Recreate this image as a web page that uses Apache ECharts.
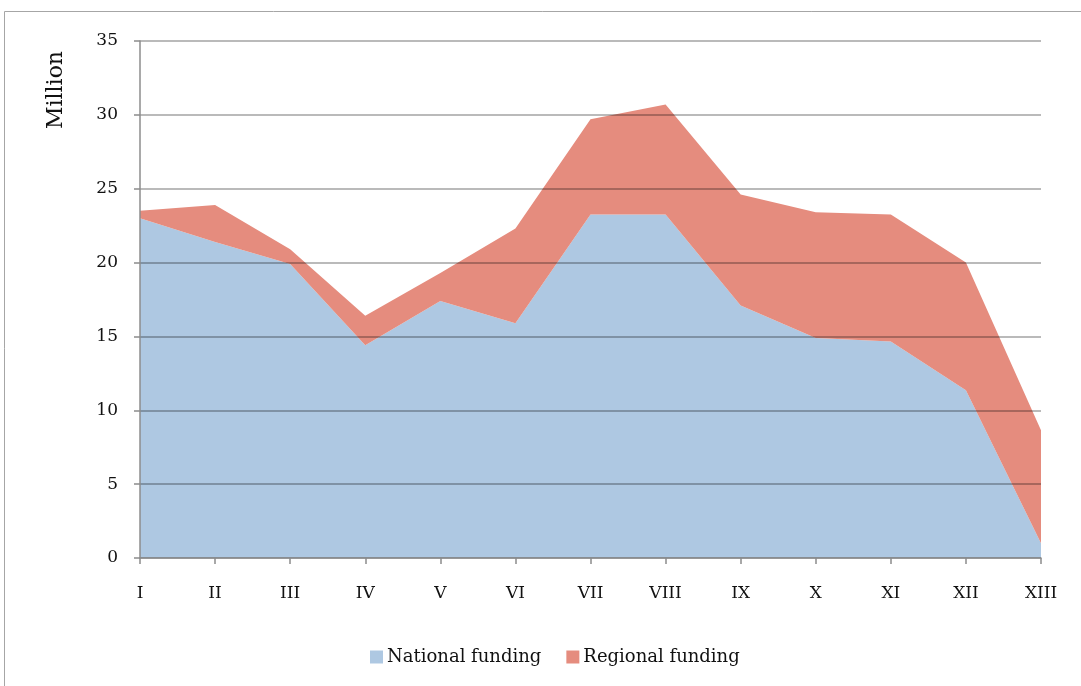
<!DOCTYPE html>
<html>
<head>
<meta charset="utf-8">
<script src="https://cdn.jsdelivr.net/npm/echarts@6/dist/echarts.min.js"></script>
<style>
  html, body { margin: 0; padding: 0; background: #ffffff; }
  #chart { width: 1081px; height: 686px; }
</style>
</head>
<body>
<div id="chart"></div>
<script>
// Funding by period, in millions
const categories = ['I', 'II', 'III', 'IV', 'V', 'VI', 'VII', 'VIII', 'IX', 'X', 'XI', 'XII', 'XIII'];
const nationalFunding = [23.0, 21.4, 19.9, 14.4, 17.4, 15.9, 23.25, 23.25, 17.1, 14.9, 14.65, 11.35, 1.0];
const totalFunding = [23.5, 23.9, 20.9, 16.4, 19.3, 22.3, 29.7, 30.7, 24.6, 23.4, 23.25, 20.0, 8.65];
const regionalFunding = totalFunding.map((t, i) => +(t - nationalFunding[i]).toFixed(2));
const yTicks = { min: 0, max: 35, interval: 5 };
const unitLabel = 'Million';

const font = '"DejaVu Serif", "Liberation Serif", serif';
const chart = echarts.init(document.getElementById('chart'), null, { renderer: 'canvas' });

chart.setOption({
  animation: false,
  backgroundColor: '#ffffff',
  graphic: [
    {
      type: 'polyline',
      shape: { points: [[4.5, 686], [4.5, 11.5], [1081, 11.5]] },
      style: { stroke: '#a6a6a6', lineWidth: 1, fill: null },
      silent: true
    },
    {
      type: 'text',
      x: 56,
      y: 90,
      rotation: Math.PI / 2,
      style: {
        text: unitLabel,
        fontFamily: font,
        fontSize: 22,
        fill: '#111111',
        align: 'center',
        verticalAlign: 'middle'
      },
      silent: true
    }
  ],
  grid: { left: 140, right: 40, top: 41, bottom: 128, containLabel: false },
  legend: {
    data: ['National funding', 'Regional funding'],
    bottom: 15,
    left: 365,
    itemWidth: 13,
    itemHeight: 13,
    itemGap: 25,
    icon: 'rect',
    textStyle: { fontFamily: font, fontSize: 18, color: '#111111', padding: [0, 0, 0, -1] }
  },
  xAxis: {
    type: 'category',
    data: categories,
    boundaryGap: false,
    axisLine: { lineStyle: { color: '#8c8c8c', width: 1.5 } },
    axisTick: { show: true, length: 6, lineStyle: { color: '#8c8c8c', width: 1.5 }, alignWithLabel: true },
    axisLabel: { fontFamily: font, fontSize: 17, color: '#111111', margin: 27 },
    z: 3
  },
  yAxis: {
    type: 'value',
    min: yTicks.min,
    max: yTicks.max,
    interval: yTicks.interval,
    axisLine: { show: true, lineStyle: { color: '#8c8c8c', width: 1.5 } },
    axisTick: { show: true, length: 6, lineStyle: { color: '#8c8c8c', width: 1.5 } },
    axisLabel: { fontFamily: font, fontSize: 17, color: '#111111', margin: 22 },
    splitLine: { show: true, lineStyle: { color: 'rgba(0,0,0,0.36)', width: 1.6 } },
    z: 3
  },
  series: [
    {
      name: 'National funding',
      type: 'line',
      stack: 'funding',
      data: nationalFunding,
      symbol: 'none',
      lineStyle: { width: 0 },
      itemStyle: { color: '#aec8e2' },
      areaStyle: { color: '#aec8e2', opacity: 1 },
      z: 2
    },
    {
      name: 'Regional funding',
      type: 'line',
      stack: 'funding',
      data: regionalFunding,
      symbol: 'none',
      lineStyle: { width: 0 },
      itemStyle: { color: '#e58c7e' },
      areaStyle: { color: '#e58c7e', opacity: 1 },
      z: 2
    }
  ]
});
</script>
</body>
</html>
